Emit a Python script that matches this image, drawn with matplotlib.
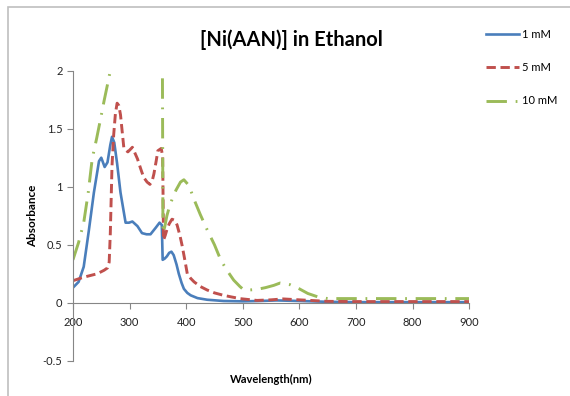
import matplotlib.pyplot as plt
from matplotlib.patches import Rectangle

plt.rcParams["font.family"] = ["Lato", "DejaVu Sans"]

# UV-Vis spectra of [Ni(AAN)] in ethanol at three concentrations
wl_1 = [200, 210, 219, 228, 237, 246, 250, 256, 261, 266, 269, 273, 278, 284,
        293, 299, 305, 314, 322, 330, 337, 346, 353, 357, 358.5, 362, 366, 370,
        374, 378, 383, 387, 392, 396, 402, 408, 420, 437, 466, 500, 530, 560,
        600, 650, 700, 800, 900]
abs_1 = [0.13, 0.18, 0.31, 0.62, 0.95, 1.22, 1.25, 1.17, 1.21, 1.36, 1.43, 1.38,
         1.20, 0.95, 0.69, 0.69, 0.70, 0.66, 0.60, 0.59, 0.59, 0.645, 0.69, 0.67,
         0.37, 0.38, 0.40, 0.43, 0.44, 0.41, 0.33, 0.25, 0.17, 0.12, 0.085, 0.064,
         0.04, 0.026, 0.015, 0.012, 0.015, 0.02, 0.015, 0.008, 0.005, 0.005, 0.005]

wl_5 = [200, 219, 243, 255, 261, 264, 266, 269, 272, 275, 278, 281, 284, 290,
        297, 305, 314, 320, 325, 331, 336, 340, 343, 347, 350, 356, 358.5, 360,
        363, 366, 370, 375, 380, 384, 389, 393, 398, 402, 408, 414, 425, 437,
        450, 466, 480, 496, 525, 550, 571, 600, 650, 700, 800, 900]
abs_5 = [0.19, 0.22, 0.25, 0.28, 0.30, 0.35, 0.60, 1.18, 1.45, 1.63, 1.72, 1.70,
         1.62, 1.33, 1.30, 1.34, 1.24, 1.15, 1.08, 1.04, 1.02, 1.05, 1.11, 1.22,
         1.31, 1.33, 1.26, 0.54, 0.58, 0.63, 0.68, 0.72, 0.71, 0.67, 0.58, 0.49,
         0.36, 0.25, 0.21, 0.18, 0.14, 0.11, 0.085, 0.064, 0.05, 0.035, 0.02,
         0.025, 0.033, 0.025, 0.012, 0.01, 0.01, 0.01]

wl_10 = [200, 210, 219, 227, 234, 242, 249, 255, 261, 266, 270, 280, 300, 330,
         355, 357.5, 359, 362, 366, 370, 375, 382, 390, 396, 405, 414, 425, 437,
         450, 461, 472, 484, 495, 502, 512, 525, 540, 555, 566, 584, 600, 615,
         633, 650, 700, 800, 900]
abs_10 = [0.37, 0.52, 0.69, 0.95, 1.24, 1.42, 1.59, 1.74, 1.88, 2.0, 2.1, 2.4,
          2.8, 3.0, 3.0, 2.9, 0.6, 0.65, 0.75, 0.82, 0.89, 0.97, 1.04, 1.06,
          1.01, 0.89, 0.76, 0.63, 0.50, 0.37, 0.28, 0.195, 0.14, 0.11, 0.11,
          0.115, 0.13, 0.15, 0.17, 0.155, 0.12, 0.08, 0.05, 0.036, 0.036,
          0.036, 0.036]

labels = ["1 mM", "5 mM", "10 mM"]
x_ticks = [200, 300, 400, 500, 600, 700, 800, 900]
y_ticks = [-0.5, 0, 0.5, 1, 1.5, 2]

fig = plt.figure(figsize=(5.7, 3.96), dpi=100)
ax = fig.add_axes([0.128, 0.089, 0.695, 0.7325])

ax.plot(wl_1, abs_1, color="#4A7EBB", lw=1.9, label=labels[0])
ax.plot(wl_5, abs_5, color="#C0504D", lw=2.1, dashes=(3.2, 1.6), label=labels[1])
ax.plot(wl_10, abs_10, color="#9BBB59", lw=2.1, dashes=(7, 3, 0.6, 3), label=labels[2])

ax.set_xlim(200, 900)
ax.set_ylim(-0.5, 2)
ax.set_xticks(x_ticks)
ax.set_yticks(y_ticks)
ax.set_yticklabels(["-0.5", "0", "0.5", "1", "1.5", "2"])

for s in ("top", "right"):
    ax.spines[s].set_visible(False)
ax.spines["bottom"].set_position(("data", 0))
for s in ("left", "bottom"):
    ax.spines[s].set_color("#868686")
    ax.spines[s].set_linewidth(0.8)
ax.tick_params(axis="both", direction="out", length=4, width=0.8,
               color="#868686", labelsize=8, labelcolor="#222222")
ax.tick_params(axis="x", pad=6)

ax.set_xlabel("Wavelength(nm)", fontsize=8, fontweight="bold", labelpad=0)
ax.xaxis.set_label_coords(0.50, -0.045)
ax.set_ylabel("Absorbance", fontsize=8.5, fontweight="bold")
ax.yaxis.set_label_coords(-0.088, 0.50)

fig.text(0.512, 0.9, "[Ni(AAN)] in Ethanol", ha="center", va="center",
         fontsize=14.5, fontweight="bold")

fig.legend(loc="upper left", bbox_to_anchor=(0.835, 0.952), frameon=False,
           fontsize=8, handlelength=3.0, handletextpad=0.2, labelspacing=2.0)

# light chart-area frame along the top and left
fig.add_artist(Rectangle((8 / 570, -0.1), 1.2, (396 - 7) / 396 + 0.1,
                         transform=fig.transFigure, fill=False,
                         edgecolor="#BFBFBF", lw=1.2))

fig.savefig("out.png", dpi=100)
